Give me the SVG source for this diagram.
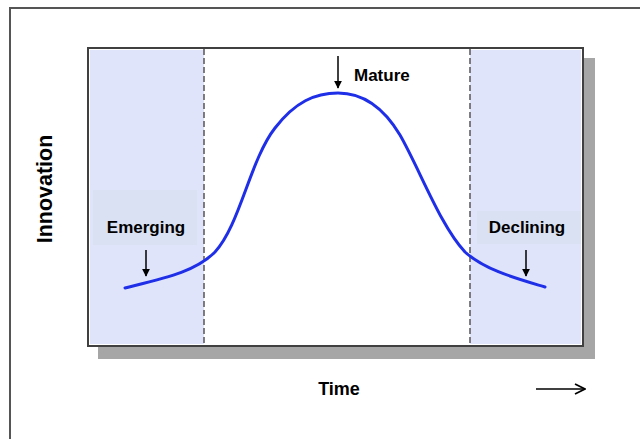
<svg xmlns="http://www.w3.org/2000/svg" width="640" height="439" viewBox="0 0 640 439">
<defs>
<style>
.lbl{font-family:"Liberation Sans",Arial,sans-serif;font-weight:bold;fill:#000;}
.dash{stroke:#555;stroke-width:1.5;stroke-dasharray:6,3;fill:none;}
.arr{stroke:#000;stroke-width:1.5;fill:none;}
.tag{fill:#d9e1f2;}
</style>
<marker id="ah" viewBox="0 0 10 10" refX="9" refY="5" markerWidth="8" markerHeight="9" markerUnits="userSpaceOnUse" orient="auto">
<path d="M0,0 L10,5 L0,10 z" fill="#000"/>
</marker>
<marker id="oh" viewBox="0 0 12 12" refX="11" refY="6" markerWidth="12" markerHeight="12" markerUnits="userSpaceOnUse" orient="auto">
<path d="M1,1 L11,6 L1,11" fill="none" stroke="#000" stroke-width="1.8"/>
</marker>
</defs>
<rect width="640" height="439" fill="#fff"/>
<g id="frame">
<path d="M10,445 V8 H650" fill="none" stroke="#555" stroke-width="2"/>
</g>
<g id="chart">
<rect x="98" y="58" width="497" height="301" fill="#a6a6a6"/>
<rect x="88" y="48" width="495" height="298" fill="#fff" stroke="#404040" stroke-width="2"/>
<rect x="90" y="50" width="114" height="294" fill="#dfe4fb"/>
<rect x="470" y="50" width="111" height="294" fill="#dfe4fb"/>
<line class="dash" x1="204" y1="49" x2="204" y2="345"/>
<line class="dash" x1="470" y1="49" x2="470" y2="345"/>
</g>
<g id="curve">
<path d="M125,288 C165,278 195,272 215,252 C240,225 250,160 275,128 C295,102 315,93 338,93 C365,93 385,110 400,135 C420,170 440,225 465,252 C485,270 515,278 545,287" fill="none" stroke="#1f2fe8" stroke-width="3" stroke-linecap="round"/>
</g>
<g id="emerging">
<rect class="tag" x="93" y="190" width="104" height="55"/>
<text class="lbl" x="146" y="233" font-size="17" text-anchor="middle">Emerging</text>
</g>
<g id="declining">
<rect class="tag" x="477" y="211" width="104" height="33"/>
<text class="lbl" x="527" y="233" font-size="17" text-anchor="middle">Declining</text>
</g>
<g id="mature">
<text class="lbl" x="354" y="81" font-size="17">Mature</text>
</g>
<g id="axes">
<text class="lbl" x="339" y="395" font-size="18" text-anchor="middle">Time</text>
<text class="lbl" transform="translate(52,189) rotate(-90)" font-size="21.5" text-anchor="middle">Innovation</text>
</g>
<g id="connectors">
<line class="arr" x1="146" y1="250" x2="146" y2="276" marker-end="url(#ah)"/>
<line class="arr" x1="526" y1="250" x2="526" y2="276" marker-end="url(#ah)"/>
<line class="arr" x1="338" y1="56" x2="338" y2="88" marker-end="url(#ah)"/>
<line class="arr" x1="536" y1="389" x2="585" y2="389" marker-end="url(#oh)"/>
</g>
</svg>
